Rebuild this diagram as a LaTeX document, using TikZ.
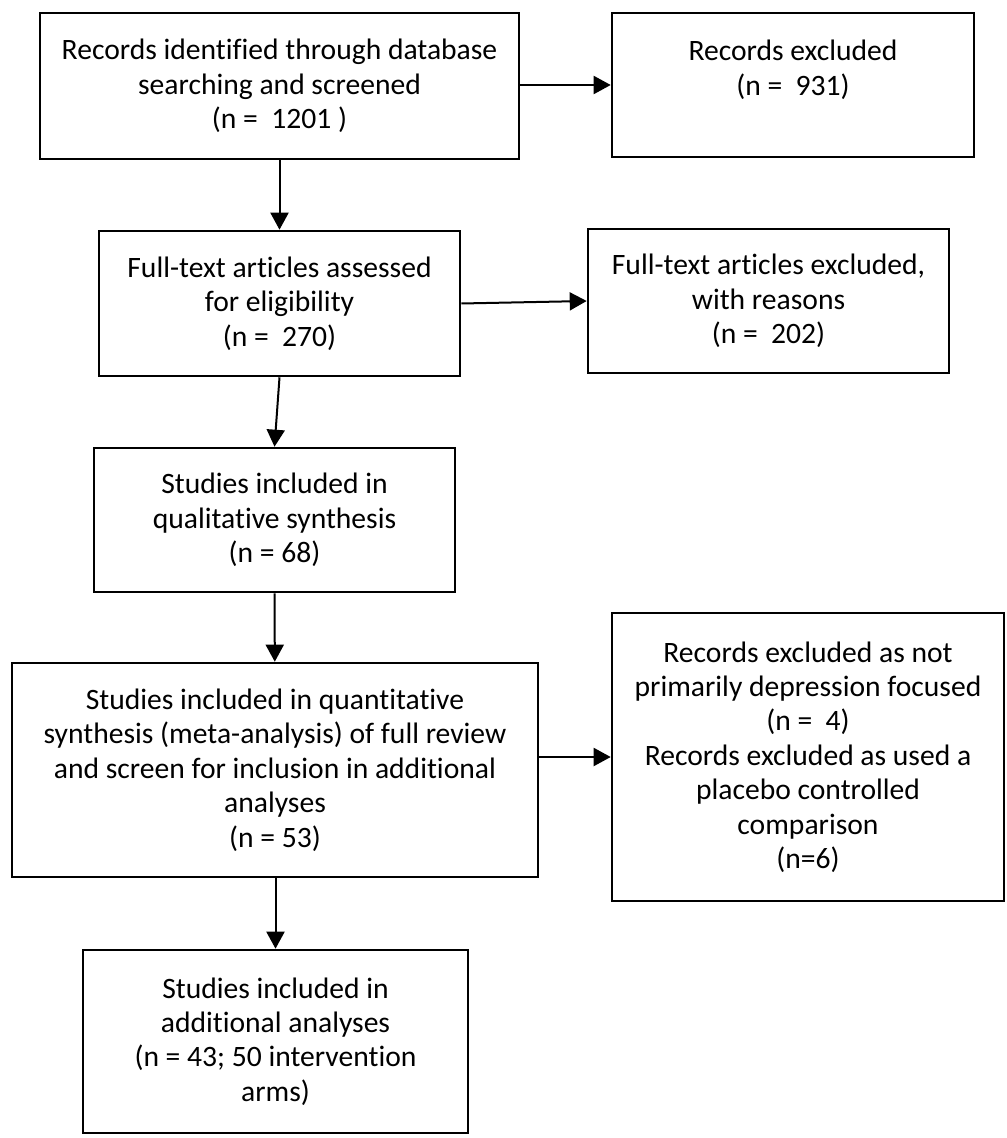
\documentclass[tikz,border=0pt]{standalone}
\usepackage{fontspec}
\setmainfont{Carlito}[Ligatures=NoCommon]
\usetikzlibrary{arrows.meta}

\begin{document}
\begin{tikzpicture}[x=0.5pt,y=-0.5pt,
    box/.style={draw,line width=1.3pt,align=center,inner sep=0pt,
        font=\fontsize{14.8}{17.2}\selectfont},
    flow/.style={line width=1pt,-{Triangle[length=8.5pt,width=9pt]}}]
                % Page size
                \useasboundingbox (0,0) rectangle (1006,1138);

                % Main column
                \node[box,minimum width=239.5pt,minimum height=73pt] (ident) at (279.5,86)
                    {Records identified through database\\searching and screened\\(n = \ 1201 )};
                \node[box,minimum width=180.5pt,minimum height=72.5pt] (elig) at (279.5,303.5)
                    {Full-text articles assessed\\for eligibility\\(n = \ 270)};
                \node[box,minimum width=180.5pt,minimum height=72pt] (qual) at (274.5,520)
                    {Studies included in\\qualitative synthesis\\(n = 68)};
                \node[box,minimum width=263pt,minimum height=107pt] (quant) at (275,770)
                    {Studies included in quantitative\\synthesis (meta-analysis) of full review\\and screen for inclusion in additional\\analyses\\(n = 53)};
                \node[box,minimum width=192.5pt,minimum height=91.5pt] (addl) at (275.5,1041.5)
                    {Studies included in\\additional analyses\\(n = 43; 50 intervention\\arms)};

                % Exclusions
                \node[box,minimum width=181pt,minimum height=72pt] (excl1) at (793,85)
                    {Records excluded\\(n = \ 931)\\\mbox{}};
                \node[box,minimum width=180.5pt,minimum height=72pt] (excl2) at (768.5,301)
                    {Full-text articles excluded,\\with reasons\\(n = \ 202)};
                \node[box,minimum width=196pt,minimum height=144pt] (excl3) at (808,757)
                    {Records excluded as not\\primarily depression focused\\(n = \ 4)\\Records excluded as used a\\placebo controlled\\comparison\\(n=6)};

                % Down arrows
                \draw[flow] (ident) -- (elig);
                \draw[flow] (elig.south) -- (qual.north);
                \draw[flow] (qual) -- (quant);
                \draw[flow] (quant.south -| addl.north) -- (addl.north);

                % Side arrows
                \draw[flow] (ident.east |- excl1.west) -- (excl1.west);
                \draw[flow] (elig.east) -- (excl2.west);
                \draw[flow] (quant.east |- excl3.west) -- (excl3.west);
\end{tikzpicture}
\end{document}
